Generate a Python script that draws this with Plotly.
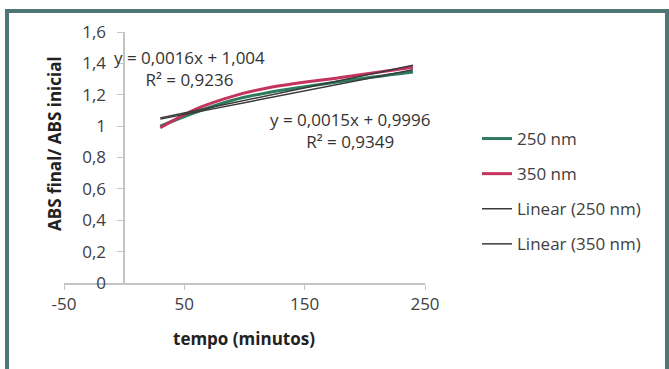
import plotly.graph_objects as go

# ---- data ----
tempo = [30, 60, 90, 120, 180, 240]
abs_250 = [1.00, 1.09, 1.165, 1.215, 1.285, 1.345]
abs_350 = [0.99, 1.11, 1.19, 1.245, 1.31, 1.375]
trend_250 = (0.0015, 0.9996)
trend_350 = (0.0016, 1.004)
eq_350 = ["y = 0,0016x + 1,004", "R² = 0,9236"]
eq_250 = ["y = 0,0015x + 0,9996", "R² = 0,9349"]
y_tickvals = [0, 0.2, 0.4, 0.6, 0.8, 1, 1.2, 1.4, 1.6]
y_ticktext = ["0", "0,2", "0,4", "0,6", "0,8", "1", "1,2", "1,4", "1,6"]
x_tickvals = [-50, 50, 150, 250]
x_ticktext = ["-50", "50", "150", "250"]

FONT = "Open Sans, Noto Sans, sans-serif"
FS = 17
W, H = 669, 369
L, R, T, B = 64, 244, 32, 86
pw, ph = W - L - R, H - T - B


def px(x):
    return (x - L) / pw


def py(y):
    return (H - B - y) / ph


def note(text, x, y, angle=0, color="#333333"):
    return dict(text=text, xref="paper", yref="paper", x=px(x), y=py(y),
                xanchor="center", yanchor="middle", textangle=angle,
                align="center", showarrow=False, font=dict(size=FS, color=color))


xs = [min(tempo), max(tempo)]

fig = go.Figure()
fig.add_trace(go.Scatter(x=tempo, y=abs_250, mode="lines", name="250 nm",
                         line=dict(color="#2e7a5d", width=3, shape="spline"),
                         legendgroup="a"))
fig.add_trace(go.Scatter(x=tempo, y=abs_350, mode="lines", name="350 nm",
                         line=dict(color="#c4325e", width=3, shape="spline"),
                         legendgroup="b"))
fig.add_trace(go.Scatter(x=xs, y=[trend_250[0] * v + trend_250[1] for v in xs],
                         mode="lines", name="Linear (250 nm)",
                         line=dict(color="#3a3a3a", width=1.5), legendgroup="c"))
fig.add_trace(go.Scatter(x=xs, y=[trend_350[0] * v + trend_350[1] for v in xs],
                         mode="lines", name="Linear (350 nm)",
                         line=dict(color="#3a3a3a", width=1.5), legendgroup="d"))

axis_col = "#c4c4c4"
fig.update_layout(
    width=W, height=H,
    margin=dict(l=L, r=R, t=T, b=B),
    paper_bgcolor="white", plot_bgcolor="white",
    font=dict(family=FONT, size=FS, color="#404040"),
    showlegend=True,
    legend=dict(x=px(477), y=py(191.5), xanchor="left", yanchor="middle",
                font=dict(size=FS, color="#404040"), tracegroupgap=10,
                bgcolor="rgba(0,0,0,0)"),
    xaxis=dict(range=[-50, 250], tickvals=x_tickvals, ticktext=x_ticktext,
               showgrid=False, zeroline=False, showline=True,
               linecolor=axis_col, linewidth=1.5, ticks="outside",
               ticklen=5, tickcolor=axis_col, fixedrange=True),
    yaxis=dict(range=[0, 1.6], tickvals=y_tickvals, ticktext=y_ticktext,
               showgrid=False, zeroline=False, showline=True,
               linecolor=axis_col, linewidth=1.5, ticks="outside",
               ticklen=6, tickcolor=axis_col, anchor="free",
               position=(0 - (-50)) / 300, ticklabelstandoff=8),
    shapes=[dict(type="rect", xref="paper", yref="paper",
                 x0=px(7), x1=px(667), y0=py(380), y1=py(11),
                 line=dict(color="#4e7674", width=4))],
    annotations=[
        note("<b>ABS final/ ABS inicial</b>", 54, 144, angle=-90, color="#222222"),
        note("<b>tempo (minutos)</b>", 244, 338, color="#222222"),
        note("<br>".join(eq_350), 189, 68.5),
        note("<br>".join(eq_250), 350, 130),
    ],
)

fig.write_html("out.html", config={"displayModeBar": False},
               post_script="document.body.style.margin='0';")
